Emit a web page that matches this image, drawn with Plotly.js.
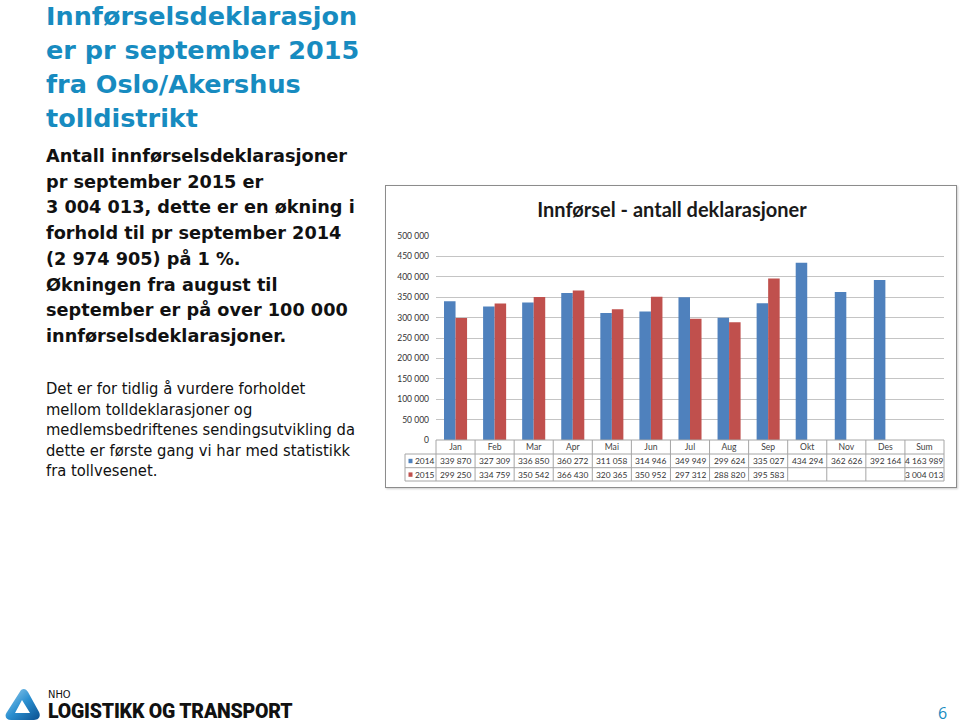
<!DOCTYPE html>
<html>
<head>
<meta charset="utf-8">
<script src="https://cdn.plot.ly/plotly-3.0.1.min.js"></script>
<style>
html,body{margin:0;padding:0;background:#fff;width:960px;height:725px;overflow:hidden;position:relative;}
#frame{position:absolute;left:385px;top:185px;width:570px;height:301px;border:1.5px solid #8c8c8c;box-shadow:1px 1px 2px rgba(0,0,0,0.2);}
#chart{position:absolute;left:0;top:0;width:960px;height:725px;}
.title{position:absolute;left:46px;top:-1px;font-family:"DejaVu Sans",Verdana,sans-serif;font-weight:bold;font-size:25.5px;line-height:34px;color:#178bc0;white-space:nowrap;}
.lead{position:absolute;left:46px;top:144px;font-family:"DejaVu Sans",Verdana,sans-serif;font-weight:bold;font-size:17.7px;line-height:25.7px;color:#111;white-space:nowrap;}
.body{position:absolute;left:46px;top:379px;font-family:"DejaVu Sans Condensed","DejaVu Sans",sans-serif;font-size:16.4px;line-height:20.5px;color:#111;white-space:nowrap;}
.nho{position:absolute;left:48px;top:689px;font-family:"DejaVu Sans Condensed",sans-serif;font-size:11px;line-height:11px;color:#111;}
.lt{position:absolute;left:48px;top:702px;font-family:Roboto,sans-serif;font-weight:900;font-size:19.5px;line-height:20px;letter-spacing:-0.2px;color:#111;white-space:nowrap;}
.pg{position:absolute;left:938px;top:702px;font-family:"Open Sans",sans-serif;font-size:16px;color:#178bc0;}
.logo{position:absolute;left:5px;top:688px;}
</style>
</head>
<body>
<div id="frame"></div>
<div id="chart"></div>
<div class="title">Innførselsdeklarasjon<br>er pr september 2015<br>fra Oslo/Akershus<br>tolldistrikt</div>
<div class="lead">Antall innførselsdeklarasjoner<br>pr september 2015 er<br>3 004 013, dette er en økning i<br>forhold til pr september 2014<br>(2 974 905) på 1 %.<br>Økningen fra august til<br>september er på over 100 000<br>innførselsdeklarasjoner.</div>
<div class="body">Det er for tidlig å vurdere forholdet<br>mellom tolldeklarasjoner og<br>medlemsbedriftenes sendingsutvikling da<br>dette er første gang vi har med statistikk<br>fra tollvesenet.</div>
<svg class="logo" width="36" height="34" viewBox="0 0 36 34">
<defs><linearGradient id="g" x1="0" y1="0" x2="1" y2="1"><stop offset="0" stop-color="#9fd3f0"/><stop offset="0.5" stop-color="#2a8fd0"/><stop offset="1" stop-color="#0b4f8f"/></linearGradient></defs>
<path d="M16 2 C19 0 21 1 23 4 L34 24 C36 28 34 32 29 32 L6 32 C1 32 -1 28 2 24 Z M17 12 L10 25 L25 25 Z" fill="url(#g)" fill-rule="evenodd"/>
</svg>
<div class="nho">NHO</div>
<div class="lt">LOGISTIKK OG TRANSPORT</div>
<div class="pg">6</div>
<script>
// ---- data ----
const categories = ['Jan','Feb','Mar','Apr','Mai','Jun','Jul','Aug','Sep','Okt','Nov','Des','Sum'];
const seriesNames = ['2014','2015'];
const values2014 = [339870,327309,336850,360272,311058,314946,349949,299624,335027,434294,362626,392164];
const values2015 = [299250,334759,350542,366430,320365,350952,297312,288820,395583];
const sum2014 = 4163989;
const sum2015 = 3004013;
const yTickValues = [0,50000,100000,150000,200000,250000,300000,350000,400000,450000,500000];
const chartTitle = 'Innførsel - antall deklarasjoner';

// ---- layout helpers (pixel geometry of the plot box) ----
const PL = 436, PR = 944, PT = 236, PB = 440;
const px2x = p => (p - PL) / (PR - PL);
const px2y = p => (PB - p) / (PB - PT);
const fmt = n => String(n).replace(/\B(?=(\d{3})+(?!\d))/g, ' ');

const colors = ['#4f81bd', '#c0504d'];
const series = [values2014, values2015];
const sums = [sum2014, sum2015];

const traces = series.map((vals, k) => ({
  type: 'bar',
  name: seriesNames[k],
  x: categories.slice(0, vals.length),
  y: vals,
  marker: {color: colors[k]},
  hoverinfo: 'x+y+name'
}));

const tableFont = {family: 'Lato, sans-serif', size: 8.4, color: '#333'};
const rowY = [px2y(461), px2y(474.6)];
const annotations = [];
series.forEach((vals, k) => {
  categories.forEach((c, i) => {
    let v = i < vals.length ? vals[i] : (c === 'Sum' ? sums[k] : null);
    if (v === null) return;
    annotations.push({xref: 'x', yref: 'paper', x: c, y: rowY[k], text: fmt(v),
      showarrow: false, font: tableFont, xanchor: 'center', yanchor: 'middle'});
  });
  annotations.push({xref: 'paper', yref: 'paper', x: px2x(414), y: rowY[k], text: seriesNames[k],
    showarrow: false, font: tableFont, xanchor: 'left', yanchor: 'middle', borderpad: 0});
});

const lineStyle = {color: '#a6a6a6', width: 1};
const shapes = [];
const hLines = [[PL, 440], [405, 454], [405, 467.7], [405, 481]];
hLines.forEach(([x0, y]) => shapes.push({type: 'line', xref: 'paper', yref: 'paper',
  x0: px2x(x0), x1: px2x(PR), y0: px2y(y), y1: px2y(y), line: lineStyle}));
const catW = (PR - PL) / categories.length;
for (let i = 0; i <= categories.length; i++) {
  const xp = PL + i * catW;
  shapes.push({type: 'line', xref: 'paper', yref: 'paper', x0: px2x(xp), x1: px2x(xp),
    y0: px2y(440), y1: px2y(481), line: lineStyle});
}
shapes.push({type: 'line', xref: 'paper', yref: 'paper', x0: px2x(405), x1: px2x(405),
  y0: px2y(454), y1: px2y(481), line: lineStyle});
// legend keys
rowY.forEach((y, k) => shapes.push({type: 'rect', xref: 'paper', yref: 'paper',
  x0: px2x(408.5), x1: px2x(412.5), y0: y - 2.2 / (PB - PT), y1: y + 2.2 / (PB - PT),
  fillcolor: colors[k], line: {width: 0}}));

const layout = {
  width: 960, height: 725,
  margin: {l: PL, r: 960 - PR, t: PT, b: 725 - PB, pad: 0},
  paper_bgcolor: 'rgba(0,0,0,0)', plot_bgcolor: 'rgba(0,0,0,0)',
  separators: ', ',
  showlegend: false,
  barmode: 'group', bargap: 0.41, bargroupgap: 0,
  title: {text: '<b>' + chartTitle + '</b>', x: 672 / 960, xanchor: 'center',
    y: 1 - 210 / 725, yanchor: 'middle', yref: 'container',
    font: {family: 'Lato, sans-serif', size: 20, color: '#1a1a1a'}},
  xaxis: {type: 'category', categoryorder: 'array', categoryarray: categories,
    range: [-0.5, categories.length - 0.5], showgrid: false, zeroline: false, showline: false,
    ticks: '', tickfont: {family: 'Lato, sans-serif', size: 8.6, color: '#444'}, ticklabelstandoff: 0},
  yaxis: {range: [0, 500000], tickvals: yTickValues, tickformat: ',d', showgrid: true,
    gridcolor: '#c4c4c4', gridwidth: 1, zeroline: false, showline: false, ticks: '',
    tickfont: {family: 'Lato, sans-serif', size: 8.5, color: '#333'}, ticklabelstandoff: 6},
  annotations: annotations,
  shapes: shapes
};

Plotly.newPlot('chart', traces, layout, {staticPlot: true, displayModeBar: false});
</script>
</body>
</html>
